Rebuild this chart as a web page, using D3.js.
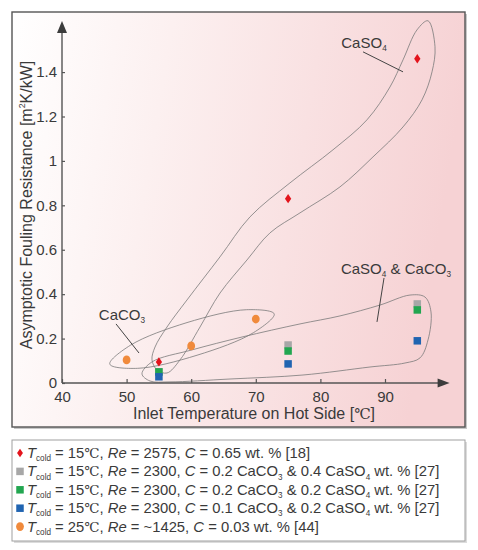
<!DOCTYPE html>
<html>
<head>
  <meta charset="utf-8" />
  <script src="https://d3js.org/d3.v7.min.js"></script>
  <style>
    body {
      margin: 0;
      background: #fff;
    }
    svg {
      font-family: "Liberation Sans", Arial, sans-serif;
    }
    svg text {
      fill: #3a3a3a;
    }
  </style>
</head>
<body>
  <script>
    // tick labels
    var xTicks = [40, 50, 60, 70, 80, 90];
    var yTicks = [0, 0.2, 0.4, 0.6, 0.8, 1, 1.2, 1.4];

    // series values (inlet temperature, asymptotic fouling resistance)
    var temps18 = [55, 75, 95];
    var red065 = [0.095, 0.83, 1.46];
    var temps27 = [55, 75, 95];
    var gray0204 = [0.05, 0.171, 0.356];
    var green0202 = [0.05, 0.144, 0.329];
    var blue0102 = [0.028, 0.086, 0.19];
    var temps44 = [50, 60, 70];
    var orange003 = [0.104, 0.167, 0.288];

    var legendLabels = [
      "<i>T</i><sub>cold</sub> = 15℃, <i>Re</i> = 2575, <i>C</i> = 0.65 wt. % [18]",
      "<i>T</i><sub>cold</sub> = 15℃, <i>Re</i> = 2300, <i>C</i> = 0.2 CaCO<sub>3</sub> &amp; 0.4 CaSO<sub>4</sub> wt. % [27]",
      "<i>T</i><sub>cold</sub> = 15℃, <i>Re</i> = 2300, <i>C</i> = 0.2 CaCO<sub>3</sub> &amp; 0.2 CaSO<sub>4</sub> wt. % [27]",
      "<i>T</i><sub>cold</sub> = 15℃, <i>Re</i> = 2300, <i>C</i> = 0.1 CaCO<sub>3</sub> &amp; 0.2 CaSO<sub>4</sub> wt. % [27]",
      "<i>T</i><sub>cold</sub> = 25℃, <i>Re</i> = ~1425, <i>C</i> = 0.03 wt. % [44]"
    ];

    // hand drawn outlines around the groups, in data units
    var outlineCaSO4 = [
      [96.66, 1.631], [97.74, 1.514], [97.28, 1.401], [95.73, 1.275], [92.79, 1.153],
      [88.14, 1.018], [83.03, 0.883], [76.84, 0.766], [72.2, 0.676], [68.64, 0.554],
      [64.46, 0.405], [61.36, 0.252], [58.27, 0.104], [56.25, 0.045], [54.71, 0.059],
      [53.93, 0.104], [54.4, 0.162], [56.25, 0.252], [59.35, 0.374], [64.46, 0.568],
      [69.1, 0.748], [75.29, 0.901], [81.95, 1.05], [87.21, 1.185], [90.77, 1.333],
      [92.79, 1.455], [94.95, 1.59]
    ];
    var outlineCaCO3 = [
      [72.85, 0.311], [69.66, 0.227], [60.9, 0.125], [51.67, 0.066],
      [47.4, 0.085], [50.59, 0.17], [59.35, 0.272], [68.58, 0.33]
    ];
    var outlineMixed = [
      [52.38, 0.041], [53.93, 0.095], [60.12, 0.149], [67.86, 0.207], [76.84, 0.266],
      [83.03, 0.302], [89.23, 0.351], [93.87, 0.396], [96.19, 0.387], [97.12, 0.32],
      [96.66, 0.194], [95.42, 0.113], [93.1, 0.09], [87.68, 0.072], [77.31, 0.036],
      [66.01, 0.018], [56.72, 0.005], [53.62, 0.009]
    ];

    // group labels: text, anchor point, pointer line
    var groupNotes = [
      { text: "CaSO<sub>4</sub>", at: [86.75, 1.509], from: [86.6, 1.491], to: [92.79, 1.401] },
      { text: "CaSO<sub>4</sub> &amp; CaCO<sub>3</sub>", at: [91.7, 0.491], from: [89.85, 0.473], to: [88.76, 0.275] },
      { text: "CaCO<sub>3</sub>", at: [49.29, 0.284], from: [48.36, 0.266], to: [51.92, 0.135] }
    ];

    var series = [
      { temps: temps27, values: gray0204, color: "#a7a7a7", shape: "square" },
      { temps: temps27, values: green0202, color: "#22a650", shape: "square" },
      { temps: temps27, values: blue0102, color: "#2064b1", shape: "square" },
      { temps: temps18, values: red065, color: "#e3141c", shape: "diamond" },
      { temps: temps44, values: orange003, color: "#f08a3c", shape: "circle" }
    ];
    // legend order
    var legendSeries = [series[3], series[0], series[1], series[2], series[4]];

    var W = 478, H = 550;
    var x = d3.scaleLinear().domain([40, 100]).range([62, 449.6]);
    var y = d3.scaleLinear().domain([0, 1.63]).range([383, 21]);

    var svg = d3.select("body")
      .append("svg")
      .attr("width", W)
      .attr("height", H);

    var defs = svg.append("defs");
    var grad = defs.append("linearGradient")
      .attr("id", "bg")
      .attr("x1", "0").attr("y1", "0")
      .attr("x2", "1").attr("y2", "0.15");
    grad.append("stop").attr("offset", "0").attr("stop-color", "#ffffff");
    grad.append("stop").attr("offset", "0.35").attr("stop-color", "#fcf0f0");
    grad.append("stop").attr("offset", "1").attr("stop-color", "#f6d2d4");

    // write a small markup string as tspans
    function rich(textSel, str, fs) {
      str = str.replace(/&amp;/g, "&");
      var parts = str.split(/(<i>.*?<\/i>|<sub>.*?<\/sub>|<sup>.*?<\/sup>|℃)/).filter(function(s) { return s.length; });
      var shift = 0;
      parts.forEach(function(p) {
        var t = textSel.append("tspan");
        var m, target = 0;
        if ((m = p.match(/^<i>(.*)<\/i>$/))) {
          t.text(m[1]).style("font-style", "italic");
        } else if ((m = p.match(/^<sub>(.*)<\/sub>$/))) {
          t.text(m[1]).attr("font-size", fs * 0.55);
          target = fs * 0.22;
        } else if ((m = p.match(/^<sup>(.*)<\/sup>$/))) {
          t.text(m[1]).attr("font-size", fs * 0.55);
          target = -fs * 0.42;
        } else if (p === "℃") {
          t.text("℃").attr("font-family", "'DejaVu Serif', 'Liberation Serif', serif").attr("font-size", fs * 0.92);
        } else {
          t.text(p);
        }
        if (target !== shift) t.attr("dy", target - shift);
        shift = target;
      });
    }

    // outer frame with a light shadow
    svg.append("rect")
      .attr("x", 14).attr("y", 14).attr("width", 453).attr("height", 415)
      .attr("fill", "#c8c8c8");
    svg.append("rect")
      .attr("x", 12).attr("y", 12).attr("width", 453).attr("height", 415)
      .attr("fill", "url(#bg)")
      .attr("stroke", "#555")
      .attr("stroke-width", 1.4);

    // outlines
    var outline = d3.line()
      .x(function(d) { return x(d[0]); })
      .y(function(d) { return y(d[1]); })
      .curve(d3.curveCatmullRomClosed.alpha(0.5));

    svg.selectAll(".outline")
      .data([outlineCaSO4, outlineCaCO3, outlineMixed])
      .enter()
      .append("path")
      .attr("class", "outline")
      .attr("d", outline)
      .attr("fill", "none")
      .attr("stroke", "#7a7a7a")
      .attr("stroke-width", 0.8);

    // group labels and pointers
    svg.selectAll(".pointer")
      .data(groupNotes)
      .enter()
      .append("line")
      .attr("class", "pointer")
      .attr("x1", function(d) { return x(d.from[0]); })
      .attr("y1", function(d) { return y(d.from[1]); })
      .attr("x2", function(d) { return x(d.to[0]); })
      .attr("y2", function(d) { return y(d.to[1]); })
      .attr("stroke", "#444")
      .attr("stroke-width", 1);

    groupNotes.forEach(function(d) {
      var t = svg.append("text")
        .attr("x", x(d.at[0]))
        .attr("y", y(d.at[1]))
        .attr("text-anchor", "middle")
        .attr("font-size", 15);
      rich(t, d.text, 15);
    });

    // axes
    var xAxis = d3.axisBottom(x)
      .tickValues(xTicks)
      .tickFormat(String)
      .tickSizeInner(-4)
      .tickSizeOuter(0)
      .tickPadding(8);
    var yAxis = d3.axisLeft(y)
      .tickValues(yTicks)
      .tickFormat(String)
      .tickSizeInner(-3)
      .tickSizeOuter(0)
      .tickPadding(5);

    var gx = svg.append("g")
      .attr("transform", "translate(0," + y(0) + ")")
      .call(xAxis);
    var gy = svg.append("g")
      .attr("transform", "translate(" + x(40) + ",0)")
      .call(yAxis);
    [gx, gy].forEach(function(g) {
      g.select(".domain").remove();
      g.selectAll(".tick line").attr("stroke", "#555").attr("stroke-width", 1.2);
      g.selectAll(".tick text")
        .attr("font-size", 15)
        .attr("font-family", "'Liberation Sans', Arial, sans-serif")
        .attr("fill", "#3a3a3a");
    });

    var x0 = x(40), y0 = y(0), xEnd = x(100), yEnd = y(1.63);
    svg.append("path")
      .attr("d", "M" + x0 + "," + y0 + "H" + (xEnd - 8) + "M" + x0 + "," + y0 + "V" + (yEnd + 8))
      .attr("stroke", "#555")
      .attr("stroke-width", 1.4)
      .attr("fill", "none");
    svg.append("path")
      .attr("d", "M" + xEnd + "," + y0 + "l-12,-4.5v9z")
      .attr("fill", "#3c3c3c");
    svg.append("path")
      .attr("d", "M" + x0 + "," + yEnd + "l-5,12h10z")
      .attr("fill", "#3c3c3c");

    // axis titles
    var xt = svg.append("text")
      .attr("x", 254)
      .attr("y", 419)
      .attr("text-anchor", "middle")
      .attr("font-size", 16);
    rich(xt, "Inlet Temperature on Hot Side [℃]", 16);

    var yt = svg.append("text")
      .attr("transform", "translate(32,205) rotate(-90)")
      .attr("text-anchor", "middle")
      .attr("font-size", 16);
    rich(yt, "Asymptotic Fouling Resistance [m<sup>2</sup>K/kW]", 16);

    // markers
    function drawMarker(g, shape, color, cx, cy, s) {
      if (shape === "square") {
        g.append("rect")
          .attr("x", cx - s / 2).attr("y", cy - s / 2)
          .attr("width", s).attr("height", s)
          .attr("fill", color);
      } else if (shape === "diamond") {
        g.append("path")
          .attr("d", "M" + cx + "," + (cy - s * 0.62) + "l" + (s * 0.42) + "," + (s * 0.62) +
            "l" + (-s * 0.42) + "," + (s * 0.62) + "l" + (-s * 0.42) + "," + (-s * 0.62) + "z")
          .attr("fill", color);
      } else {
        g.append("ellipse")
          .attr("cx", cx).attr("cy", cy)
          .attr("rx", s * 0.52).attr("ry", s * 0.58)
          .attr("fill", color);
      }
    }

    var marks = svg.append("g");
    series.forEach(function(s) {
      s.temps.forEach(function(t, i) {
        drawMarker(marks, s.shape, s.color, x(t), y(s.values[i]), 7.5);
      });
    });

    // legend
    svg.append("rect")
      .attr("x", 14).attr("y", 442).attr("width", 453).attr("height", 101)
      .attr("fill", "#dcdcdc");
    svg.append("rect")
      .attr("x", 12).attr("y", 440).attr("width", 453).attr("height", 101)
      .attr("fill", "#fff")
      .attr("stroke", "#a0a0a0")
      .attr("stroke-width", 1);

    var lg = svg.append("g");
    legendSeries.forEach(function(s, i) {
      var cy = 453 + i * 18.4;
      drawMarker(lg, s.shape, s.color, 20, cy, s.shape === "diamond" ? 7 : 7.5);
      var t = lg.append("text")
        .attr("x", 27)
        .attr("y", cy + 5)
        .attr("font-size", 14.8);
      rich(t, legendLabels[i], 14.8);
    });
  </script>
</body>
</html>
